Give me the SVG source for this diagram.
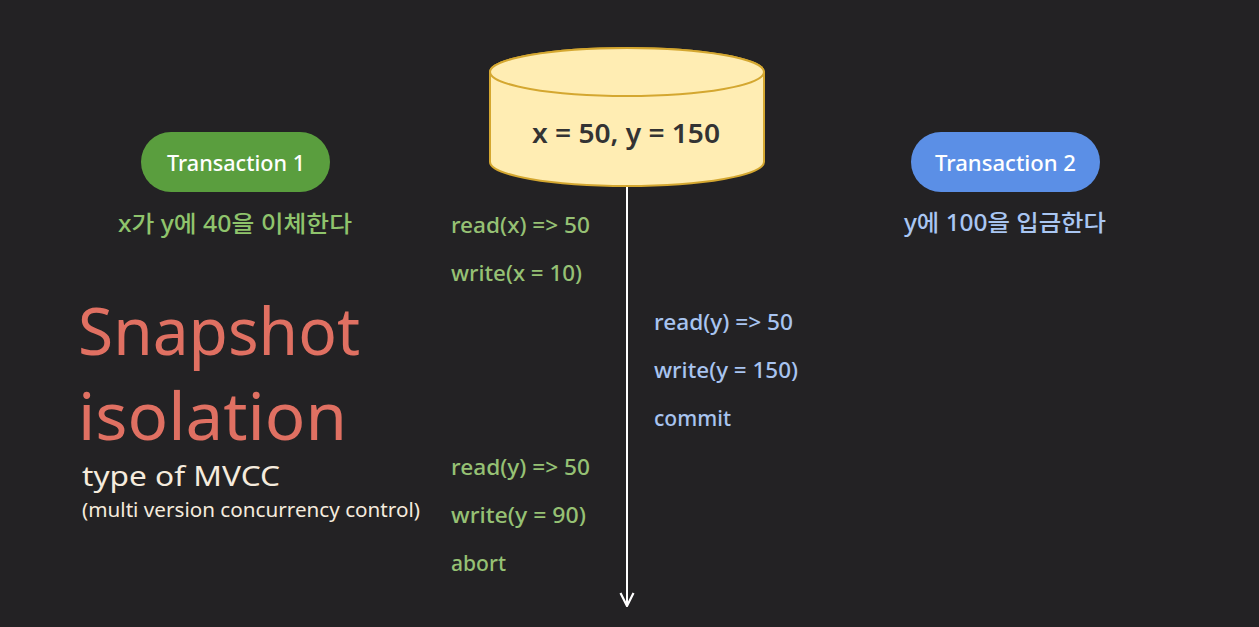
<svg xmlns="http://www.w3.org/2000/svg" width="1259" height="627" viewBox="0 0 1259 627">
<defs>
<style>
.t{font-family:"Noto Sans","Open Sans",sans-serif}
.g{fill:#96C174;font-size:21px;font-weight:500}
.b{fill:#A8C4F0;font-size:21px;font-weight:500}
.pill{font-size:21px;fill:#FFFFFF;font-weight:500}
.ko{font-family:"Noto Sans","Noto Sans CJK KR",sans-serif;font-size:23px;font-weight:500}
.title{font-size:66px;fill:#E07062}
</style>
<marker id="arr" viewBox="0 0 16 16" refX="15" refY="8" markerWidth="16" markerHeight="16" markerUnits="userSpaceOnUse" orient="auto">
<path d="M2,1.5 L15,8 L2,14.5" fill="none" stroke="#FFFFFF" stroke-width="2.2"/>
</marker>
</defs>
<rect width="1259" height="627" fill="#232224"/>
<g id="connectors">
<line x1="627" y1="186" x2="627" y2="606" stroke="#FFFFFF" stroke-width="2" marker-end="url(#arr)"/>
</g>
<g id="db">
<path d="M490,72 L490,162 A137,24 0 0 0 764,162 L764,72 A137,24 0 0 0 490,72 Z" fill="#FFEDB3" stroke="#D4A730" stroke-width="2"/>
<ellipse cx="627" cy="72" rx="137" ry="24" fill="#FFEDB3" stroke="#D4A730" stroke-width="2"/>
<text class="t" x="532" y="143" font-size="27" font-weight="600" fill="#333333" textLength="188" lengthAdjust="spacingAndGlyphs">x = 50, y = 150</text>
</g>
<g id="tx1">
<rect x="141" y="132" width="189" height="60" rx="30" fill="#5A9E3E"/>
<text class="t pill" x="167" y="171" textLength="138" lengthAdjust="spacingAndGlyphs">Transaction 1</text>
<text class="ko" x="118" y="232" fill="#8FC46C" textLength="234" lengthAdjust="spacingAndGlyphs">x가 y에 40을 이체한다</text>
</g>
<g id="tx2">
<rect x="911" y="132" width="189" height="60" rx="30" fill="#5B8FE6"/>
<text class="t pill" x="935" y="171" textLength="141" lengthAdjust="spacingAndGlyphs">Transaction 2</text>
<text class="ko" x="904" y="231" fill="#A9C6F2" textLength="202" lengthAdjust="spacingAndGlyphs">y에 100을 입금한다</text>
</g>
<g id="title">
<text class="t title" x="78" y="355" textLength="282" lengthAdjust="spacingAndGlyphs">Snapshot</text>
<text class="t title" x="78" y="440" textLength="269" lengthAdjust="spacingAndGlyphs">isolation</text>
<text class="t" x="82" y="486" font-size="27" fill="#F5EBDD" textLength="198" lengthAdjust="spacingAndGlyphs">type of MVCC</text>
<text class="t" x="82" y="517" font-size="20" fill="#F5EBDD" textLength="338" lengthAdjust="spacingAndGlyphs">(multi version concurrency control)</text>
</g>
<g id="ops1">
<text class="t g" x="451" y="233" textLength="139" lengthAdjust="spacingAndGlyphs">read(x) =&gt; 50</text>
<text class="t g" x="451" y="281" textLength="131" lengthAdjust="spacingAndGlyphs">write(x = 10)</text>
<text class="t g" x="451" y="475" textLength="139" lengthAdjust="spacingAndGlyphs">read(y) =&gt; 50</text>
<text class="t g" x="451" y="523" textLength="135" lengthAdjust="spacingAndGlyphs">write(y = 90)</text>
<text class="t g" x="451" y="571" textLength="55" lengthAdjust="spacingAndGlyphs">abort</text>
</g>
<g id="ops2">
<text class="t b" x="654" y="330" textLength="139" lengthAdjust="spacingAndGlyphs">read(y) =&gt; 50</text>
<text class="t b" x="654" y="378" textLength="144" lengthAdjust="spacingAndGlyphs">write(y = 150)</text>
<text class="t b" x="654" y="426" textLength="77" lengthAdjust="spacingAndGlyphs">commit</text>
</g>
</svg>
